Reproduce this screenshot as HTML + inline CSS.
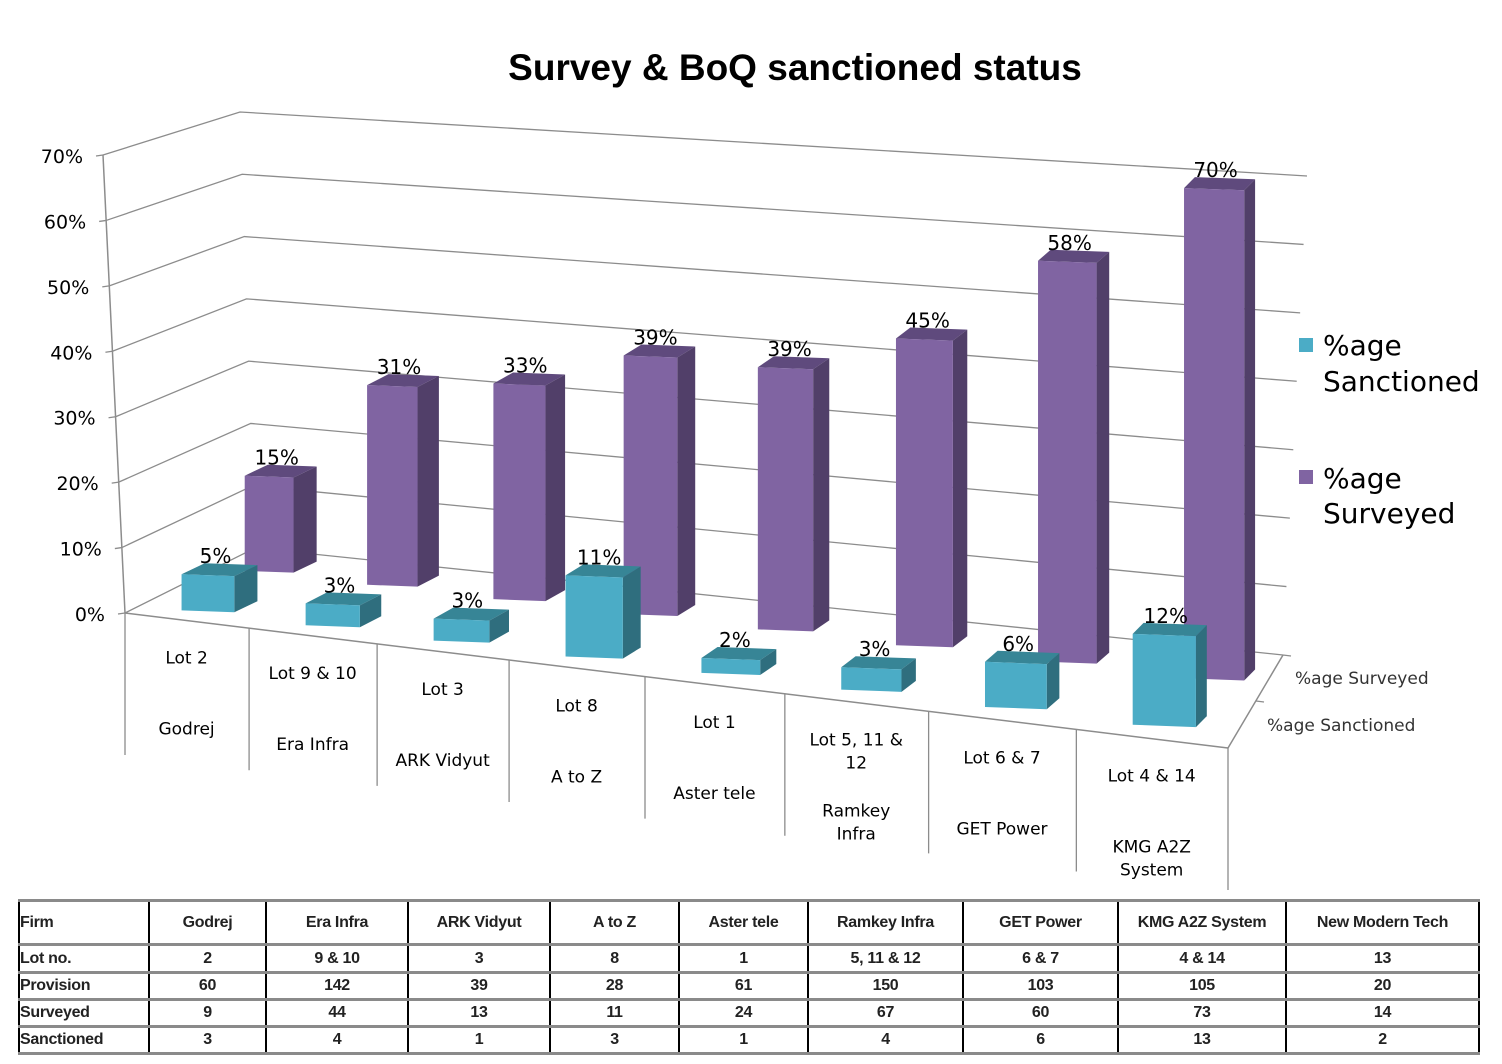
<!DOCTYPE html>
<html><head><meta charset="utf-8"><style>
body{margin:0;background:#fff;width:1502px;height:1064px;overflow:hidden}
svg{position:absolute;left:0;top:0}
table{position:absolute;left:18px;top:899px;border-collapse:collapse;font-family:"Liberation Sans",sans-serif;font-weight:bold;font-size:16px;color:#222}
td{border-left:2px solid #000;border-right:2px solid #000;border-top:3px solid #8a8a8a;border-bottom:3px solid #8a8a8a;text-align:center;padding:0;letter-spacing:-0.3px}
td:first-child{text-align:left}
</style></head><body>
<svg id="chart" width="1502" height="900" xmlns="http://www.w3.org/2000/svg"></svg>
<table>
<colgroup><col style="width:130px"><col style="width:117px"><col style="width:142px"><col style="width:142px"><col style="width:129px"><col style="width:129px"><col style="width:155px"><col style="width:155px"><col style="width:168px"><col style="width:193px"></colgroup>
<tr style="height:44px"><td>Firm</td><td>Godrej</td><td>Era Infra</td><td>ARK Vidyut</td><td>A to Z</td><td>Aster tele</td><td>Ramkey Infra</td><td>GET Power</td><td>KMG A2Z System</td><td>New Modern Tech</td></tr>
<tr style="height:28px"><td>Lot no.</td><td>2</td><td>9 &amp; 10</td><td>3</td><td>8</td><td>1</td><td>5, 11 &amp; 12</td><td>6 &amp; 7</td><td>4 &amp; 14</td><td>13</td></tr>
<tr style="height:27px"><td>Provision</td><td>60</td><td>142</td><td>39</td><td>28</td><td>61</td><td>150</td><td>103</td><td>105</td><td>20</td></tr>
<tr style="height:27px"><td>Surveyed</td><td>9</td><td>44</td><td>13</td><td>11</td><td>24</td><td>67</td><td>60</td><td>73</td><td>14</td></tr>
<tr style="height:27px"><td>Sanctioned</td><td>3</td><td>4</td><td>1</td><td>3</td><td>1</td><td>4</td><td>6</td><td>13</td><td>2</td></tr>
</table>
<script>
const lots = ["Lot 2","Lot 9 & 10","Lot 3","Lot 8","Lot 1","Lot 5, 11 &|12","Lot 6 & 7","Lot 4 & 14"];
const firms = ["Godrej","Era Infra","ARK Vidyut","A to Z","Aster tele","Ramkey|Infra","GET Power","KMG A2Z|System"];
const sanctioned = [5,3,3,11,2,3,6,12];
const surveyed = [15,31,33,39,39,45,58,70];
const yTicks = [0,10,20,30,40,50,60,70];

const svg = document.getElementById('chart');
const NS = 'http://www.w3.org/2000/svg';
function el(tag, attrs, parent){const e=document.createElementNS(NS,tag);for(const k in attrs)e.setAttribute(k,attrs[k]);(parent||svg).appendChild(e);return e;}
function txt(s,x,y,size,anchor,fill,extra){const t=el('text',Object.assign({x:x,y:y,'font-size':size,'text-anchor':anchor||'middle',fill:fill||'#000','font-family':'"DejaVu Sans",sans-serif'},extra||{}));t.textContent=s;return t;}
const lerp=(a,b,t)=>a+(b-a)*t;
const N = lots.length;
const X0 = u => 125 + 977*u + 126*u*u;
const Y0 = x => 613 + 135*(x-125)/1103;

// title
let t = txt('Survey & BoQ sanctioned status',795,80,37,'middle','#000',{'font-family':'"Liberation Sans",sans-serif','font-weight':'bold'});



// gridlines
yTicks.forEach(v=>{
  const f=v/70;
  const lf=[lerp(125,103,f),lerp(613,155,f)], lb=[lerp(255,240,f),lerp(548,112,f)], rb=[lerp(1283,1307,f),lerp(655,176,f)];
  const g=el('polyline',{points:`${lf} ${lb} ${rb}`,fill:'none',stroke:'#8c8c8c','stroke-width':1.3});
  
  
  el('line',{x1:lf[0]-7,y1:lf[1]+1,x2:lf[0],y2:lf[1],stroke:'#8c8c8c','stroke-width':1.3});
  const l=txt(v+'%',lf[0]-20,lf[1]+8,19,'end');
  
  
});
// axis lines
el('line',{x1:103,y1:155,x2:125,y2:613,stroke:'#8c8c8c','stroke-width':1.5});
let fe=el('line',{x1:125,y1:613,x2:1228,y2:748,stroke:'#8c8c8c','stroke-width':1.5});


el('line',{x1:1228,y1:748,x2:1283,y2:655,stroke:'#8c8c8c','stroke-width':1.5});
el('line',{x1:1256,y1:701,x2:1264,y2:702,stroke:'#8c8c8c','stroke-width':1.3});
el('line',{x1:1283,y1:655,x2:1291,y2:656,stroke:'#8c8c8c','stroke-width':1.3});
let ds=txt('%age Surveyed',1295,684,17,'start','#333');


let dn=txt('%age Sanctioned',1267,731,17,'start','#333');



// category separators & labels
const lineDrop = 142;
for(let i=0;i<=N;i++){
  const x=X0(i/N), y=Y0(x);
  el('line',{x1:x,y1:y,x2:x,y2:y+lineDrop,stroke:'#8c8c8c','stroke-width':1.3});
}
for(let i=0;i<N;i++){
  const x=X0((i+0.5)/N), y=Y0(x);
  const a=lots[i].split('|');
  a.forEach((s,k)=>{const e=txt(s,x,y+43+k*23,17);
    
    });
  const b=firms[i].split('|');
  b.forEach((s,k)=>{const e=txt(s,x,y+114+k*23,17);
    
    });
}

function bar(i,row,val){
  const u=(i+0.5)/N, xf=X0(u), yf=Y0(xf);
  const cx = xf + (row ? 84-23*u : 22-10*u);
  const base = yf + (row ? -48-12*u : -9-4*u);
  const w = row ? 48+13*u : 52+12*u;
  const k = row ? 6.3+0.75*u : 7.2+0.4*u;
  const h = val*k;
  const s = 0.122*0.3;
  const dx = 24-14*u, dy=-11;
  const x1=cx-w/2, x2=cx+w/2;
  const b1=base-s*w/2, b2=base+s*w/2;
  const t1=b1-h, t2=b2-h;
  const cols = row ? ['#8064A2','#5F4A7D','#513F69'] : ['#4BACC6','#378596','#2F6E7E'];
  const g=el('g',{});
  
  
  el('polygon',{points:`${x1},${t1} ${x2},${t2} ${x2+dx},${t2+dy} ${x1+dx},${t1+dy}`,fill:cols[1]},g);
  el('polygon',{points:`${x2},${t2} ${x2+dx},${t2+dy} ${x2+dx},${b2+dy} ${x2},${b2}`,fill:cols[2]},g);
  el('polygon',{points:`${x1},${t1} ${x2},${t2} ${x2},${b2} ${x1},${b1}`,fill:cols[0]},g);
  const l=txt(val+'%',cx+dx/2-4,t1+dy,20);
  
  
}
for(let i=0;i<N;i++) bar(i,1,surveyed[i]);
for(let i=0;i<N;i++) bar(i,0,sanctioned[i]);

// legend
const lg=el('g',{});


const l1=el('rect',{x:1299,y:338,width:14,height:14,fill:'#4BACC6'},lg);


lg.appendChild(txt('%age',1323,355,28,'start'));
lg.appendChild(txt('Sanctioned',1323,391,28,'start'));
const l2=el('rect',{x:1299,y:470,width:14,height:14,fill:'#8064A2'},lg);


lg.appendChild(txt('%age',1323,488,28,'start'));
lg.appendChild(txt('Surveyed',1323,523,28,'start'));
</script>
</body></html>
